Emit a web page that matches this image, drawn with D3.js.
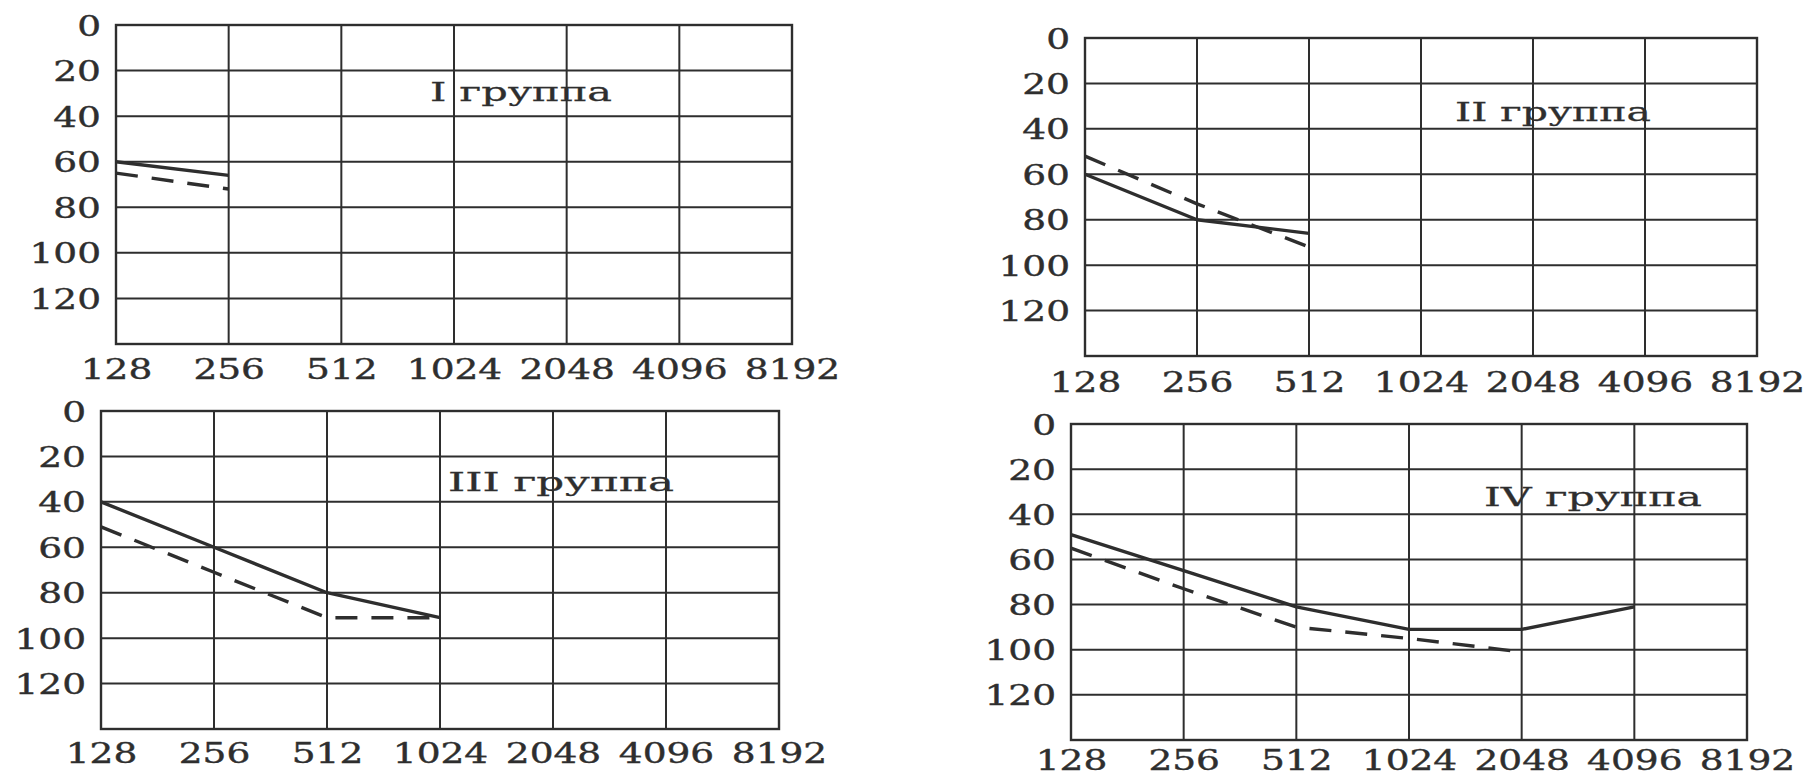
<!DOCTYPE html>
<html><head><meta charset="utf-8">
<script src="https://cdn.jsdelivr.net/npm/d3@7"></script>
<style>html,body{margin:0;padding:0;background:#fff;} svg{display:block;}</style>
</head><body>
<svg id="chart" width="1814" height="778"></svg>
<script>
// ---- data ----
const frequencies = [128, 256, 512, 1024, 2048, 4096, 8192];
const dbTicks = [0, 20, 40, 60, 80, 100, 120];
const dbGrid = [0, 20, 40, 60, 80, 100, 120, 140];
const groupTitles = ["I группа", "II группа", "III группа", "IV группа"];
const g1Solid = [60, 66];
const g1Dashed = [65, 72];
const g2Solid = [60, 80, 86];
const g2Dashed = [52, 73, 92];
const g3Solid = [40, 60, 80, 91];
const g3Dashed = [51, 71, 91, 91];
const g4Solid = [49, 65, 81, 91, 91, 81];
const g4Dashed = [55, 73, 90, 95, 101];

// ---- layout ----
const panels = [
  {title: groupTitles[0], solid: g1Solid, dashed: g1Dashed, box: {x0: 116, x1: 792, y0: 25, y1: 344}, lab: 35, tx: 430, ty: 101, tw: 182},
  {title: groupTitles[1], solid: g2Solid, dashed: g2Dashed, box: {x0: 1085, x1: 1757, y0: 38, y1: 356}, lab: 36, tx: 1455, ty: 121, tw: 196},
  {title: groupTitles[2], solid: g3Solid, dashed: g3Dashed, box: {x0: 101, x1: 779, y0: 411, y1: 729}, lab: 34, tx: 448, ty: 491, tw: 226},
  {title: groupTitles[3], solid: g4Solid, dashed: g4Dashed, box: {x0: 1071, x1: 1747, y0: 424, y1: 740}, lab: 30, tx: 1484, ty: 506, tw: 218}
];
const ink = "#2e2e2e";
const font = "'DejaVu Serif', serif";
const fontSize = 28;
const stretch = 1.34;

const svg = d3.select("#chart");
svg.append("rect").attr("width", 1814).attr("height", 778).attr("fill", "#ffffff");

panels.forEach(p => {
  const b = p.box;
  const x = d3.scaleLog().base(2).domain([128, 8192]).range([b.x0, b.x1]);
  const y = d3.scaleLinear().domain([0, 140]).range([b.y0, b.y1]);
  const g = svg.append("g");

  // grid
  g.selectAll("line.v").data(frequencies).join("line")
    .attr("x1", d => x(d)).attr("x2", d => x(d))
    .attr("y1", y(0)).attr("y2", y(140))
    .attr("stroke", ink).attr("stroke-width", 2);
  g.selectAll("line.h").data(dbGrid).join("line")
    .attr("x1", x(128)).attr("x2", x(8192))
    .attr("y1", d => y(d)).attr("y2", d => y(d))
    .attr("stroke", ink).attr("stroke-width", 2);
  g.append("rect")
    .attr("x", x(128)).attr("y", y(0))
    .attr("width", x(8192) - x(128)).attr("height", y(140) - y(0))
    .attr("fill", "none").attr("stroke", ink).attr("stroke-width", 2.4);

  // axes (labels only)
  const xAxis = g.append("g").attr("transform", `translate(0,${y(140)})`)
    .call(d3.axisBottom(x).tickValues(frequencies).tickFormat(d3.format("d")).tickSize(0).tickPadding(0));
  xAxis.select(".domain").remove();
  xAxis.selectAll("text")
    .attr("y", p.lab).attr("dy", 0)
    .attr("transform", `scale(${stretch},1)`)
    .attr("font-family", font).attr("font-size", fontSize).attr("fill", ink)
    .attr("stroke", ink).attr("stroke-width", 0.4);

  const yAxis = g.append("g").attr("transform", `translate(${x(128)},0)`)
    .call(d3.axisLeft(y).tickValues(dbTicks).tickFormat(d3.format("d")).tickSize(0).tickPadding(0));
  yAxis.select(".domain").remove();
  yAxis.selectAll("text")
    .attr("x", -15 / stretch).attr("dy", "0.36em")
    .attr("transform", `scale(${stretch},1)`)
    .attr("font-family", font).attr("font-size", fontSize).attr("fill", ink)
    .attr("stroke", ink).attr("stroke-width", 0.4);

  // series
  const line = d3.line().x((d, i) => x(frequencies[i])).y(d => y(d));
  g.append("path").datum(p.solid).attr("d", line)
    .attr("fill", "none").attr("stroke", ink).attr("stroke-width", 3.4).attr("stroke-linejoin", "round");
  g.append("path").datum(p.dashed).attr("d", line)
    .attr("fill", "none").attr("stroke", ink).attr("stroke-width", 3.4)
    .attr("stroke-dasharray", "22,14");

  // title
  g.append("text").attr("x", p.tx).attr("y", p.ty)
    .attr("textLength", p.tw).attr("lengthAdjust", "spacingAndGlyphs")
    .attr("font-family", font).attr("font-size", 26).attr("fill", ink)
    .attr("stroke", ink).attr("stroke-width", 0.3)
    .text(p.title);
});
</script>
</body></html>
